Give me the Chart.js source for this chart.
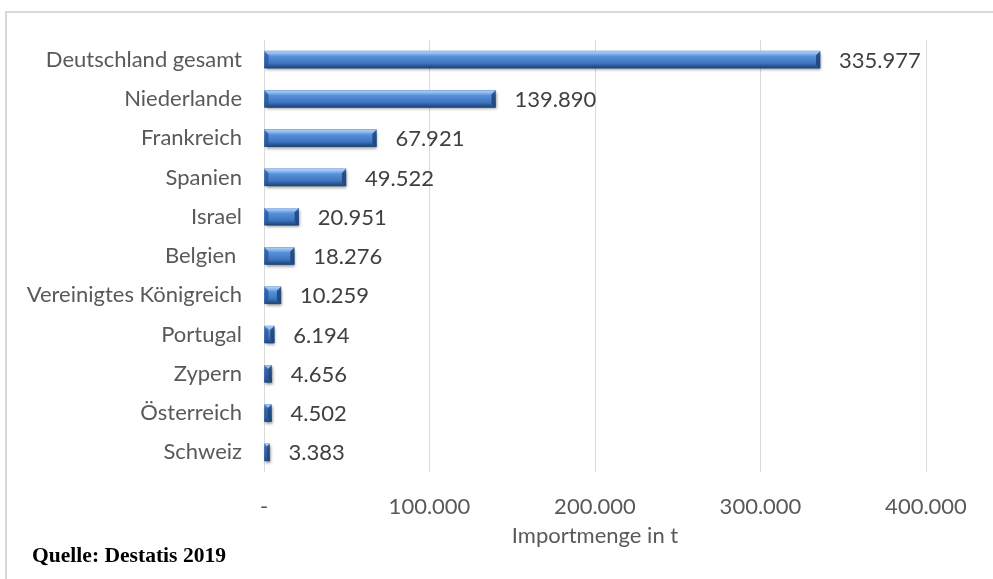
<!DOCTYPE html>
<html lang="de">
<head>
<meta charset="utf-8">
<title>Importmenge in t</title>
<script src="https://cdn.jsdelivr.net/npm/chart.js@4.4.1/dist/chart.umd.min.js"></script>
<style>
  html, body { margin: 0; padding: 0; background: #fff; }
  #wrap { position: relative; width: 993px; height: 579px; }
  #frame {
    position: absolute; left: 5px; top: 11px; right: 0; bottom: 0;
    border-left: 2px solid #d9d9d9; border-top: 2px solid #d9d9d9;
    pointer-events: none;
  }
  #source {
    position: absolute; left: 32px; top: 542px;
    font: bold 22px "Liberation Serif", "Times New Roman", serif;
    color: #000;
    transform: scaleX(0.98);
    transform-origin: left top;
    white-space: nowrap;
  }
</style>
</head>
<body>
<div id="wrap">
  <canvas id="chart" width="993" height="579"></canvas>
  <div id="frame"></div>
  <div id="source">Quelle: Destatis 2019</div>
</div>
<script>
  const laender = ['Deutschland gesamt', 'Niederlande', 'Frankreich', 'Spanien', 'Israel', 'Belgien ',
    'Vereinigtes Königreich', 'Portugal', 'Zypern', 'Österreich', 'Schweiz'];
  const importmenge = [335977, 139890, 67921, 49522, 20951, 18276, 10259, 6194, 4656, 4502, 3383];
  const achseMax = 400000;
  const achseSchritt = 100000;
  const achsenTitel = 'Importmenge in t';

  function tausender(v) {
    return String(v).replace(/\B(?=(\d{3})+(?!\d))/g, '.');
  }

  // beveled bar look, drawn over the library's bar rects
  const bevelBars = {
    id: 'bevelBars',
    afterDatasetsDraw(chart) {
      const ctx = chart.ctx;
      chart.getDatasetMeta(0).data.forEach(el => {
        const x0 = el.base, x1 = el.x, h = el.height;
        const top = el.y - h / 2, bot = el.y + h / 2;
        const w = x1 - x0;
        const b = Math.min(4, w / 2);
        ctx.save();
        ctx.shadowColor = 'rgba(0,0,0,0.45)';
        ctx.shadowOffsetY = 2;
        ctx.shadowOffsetX = 1;
        ctx.shadowBlur = 3;
        const g = ctx.createLinearGradient(0, top, 0, bot);
        g.addColorStop(0, '#b4d2f6');
        g.addColorStop(0.16, '#86b5ee');
        g.addColorStop(0.3, '#5790d8');
        g.addColorStop(0.72, '#3d74bf');
        g.addColorStop(0.84, '#2c5c9c');
        g.addColorStop(1, '#1e4373');
        ctx.fillStyle = g;
        ctx.fillRect(x0, top, w, h);
        ctx.restore();

        ctx.save();
        // left end
        ctx.fillStyle = 'rgba(40,85,150,0.75)';
        ctx.beginPath();
        ctx.moveTo(x0, top);
        ctx.lineTo(x0 + b, top + b);
        ctx.lineTo(x0 + b, bot - b);
        ctx.lineTo(x0, bot);
        ctx.closePath();
        ctx.fill();
        // right end
        ctx.fillStyle = 'rgba(30,66,118,0.85)';
        ctx.beginPath();
        ctx.moveTo(x1, top);
        ctx.lineTo(x1, bot);
        ctx.lineTo(x1 - b, bot - b);
        ctx.lineTo(x1 - b, top + b);
        ctx.closePath();
        ctx.fill();
        ctx.restore();
      });
    }
  };

  const wertLabels = {
    id: 'wertLabels',
    afterDatasetsDraw(chart) {
      const ctx = chart.ctx;
      ctx.save();
      ctx.font = '22px Lato';
      ctx.fillStyle = '#404040';
      ctx.textAlign = 'left';
      ctx.textBaseline = 'middle';
      chart.getDatasetMeta(0).data.forEach((el, i) => {
        ctx.fillText(tausender(importmenge[i]), el.x + 19, el.y + 1);
      });
      ctx.restore();
    }
  };

  new Chart(document.getElementById('chart'), {
    type: 'bar',
    data: {
      labels: laender,
      datasets: [{
        data: importmenge,
        backgroundColor: '#4a7fc8',
        barThickness: 17
      }]
    },
    options: {
      indexAxis: 'y',
      responsive: false,
      animation: false,
      layout: { padding: { top: 40, right: 67, left: 0, bottom: 0 } },
      plugins: { legend: { display: false }, tooltip: { enabled: false } },
      scales: {
        x: {
          min: 0,
          max: achseMax,
          afterFit(scale) { scale.height = 107; },
          grid: { color: '#d9d9d9', drawTicks: false },
          border: { display: false },
          ticks: {
            stepSize: achseSchritt,
            padding: 22,
            color: '#595959',
            font: { family: 'Lato', size: 22 },
            callback: v => v === 0 ? '-' : tausender(v)
          },
          title: {
            display: true,
            text: achsenTitel,
            color: '#595959',
            font: { family: 'Lato', size: 22 },
            padding: { top: 0, bottom: 30 }
          }
        },
        y: {
          afterFit(scale) { scale.width = 264; },
          grid: { display: false, drawTicks: false },
          border: { display: false },
          ticks: {
            padding: 22,
            color: '#595959',
            font: { family: 'Lato', size: 22 }
          }
        }
      }
    },
    plugins: [bevelBars, wertLabels]
  });
</script>
</body>
</html>
